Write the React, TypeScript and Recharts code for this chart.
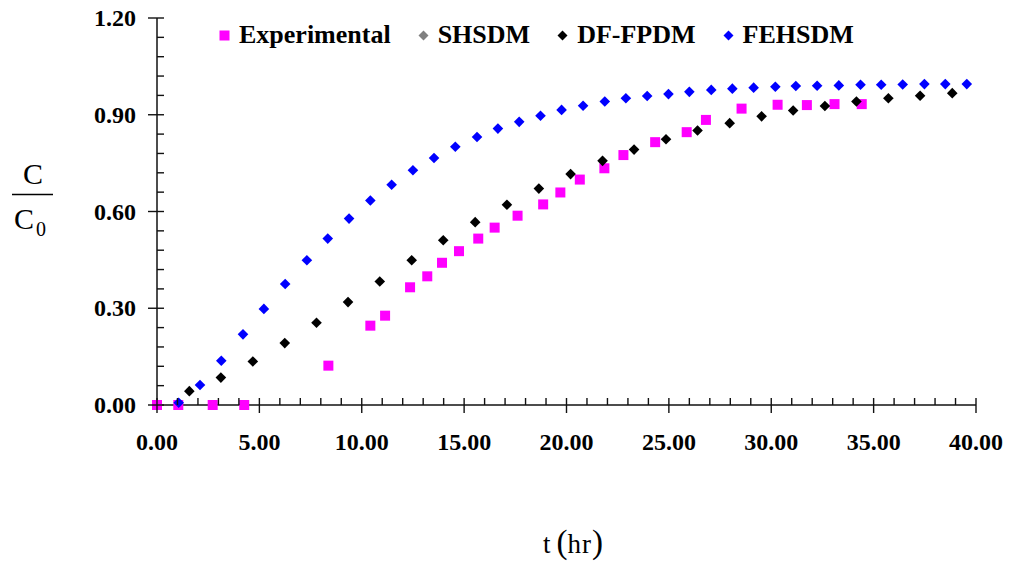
import { ScatterChart, Scatter, XAxis, YAxis, Legend } from 'recharts'

// time (hr) and C/C0
const expT = [0, 1.04, 2.72, 4.26, 8.37, 10.42, 11.14, 12.36, 13.2, 13.92, 14.75, 15.69, 16.49, 17.61, 18.86, 19.7, 20.65, 21.85, 22.78, 24.33, 25.87, 26.81, 28.55, 30.31, 31.74, 33.09, 34.42]
const expC = [0, 0, 0, 0, 0.122, 0.246, 0.277, 0.365, 0.399, 0.441, 0.477, 0.516, 0.55, 0.587, 0.622, 0.659, 0.699, 0.734, 0.775, 0.815, 0.846, 0.884, 0.919, 0.931, 0.93, 0.933, 0.933]

const shT: number[] = []
const shC: number[] = []

const dfT = [1.58, 3.12, 4.68, 6.24, 7.79, 9.33, 10.88, 12.44, 13.98, 15.54, 17.09, 18.65, 20.2, 21.76, 23.3, 24.86, 26.4, 27.97, 29.53, 31.07, 32.62, 34.16, 35.72, 37.27, 38.84]
const dfC = [0.043, 0.085, 0.135, 0.192, 0.255, 0.319, 0.383, 0.449, 0.511, 0.567, 0.621, 0.671, 0.716, 0.757, 0.792, 0.824, 0.851, 0.874, 0.895, 0.913, 0.927, 0.941, 0.951, 0.959, 0.967]

const feT = [1.06, 2.1, 3.14, 4.2, 5.22, 6.26, 7.32, 8.34, 9.38, 10.42, 11.46, 12.5, 13.53, 14.57, 15.63, 16.65, 17.69, 18.73, 19.76, 20.81, 21.87, 22.9, 23.94, 24.98, 26.0, 27.07, 28.1, 29.14, 30.2, 31.2, 32.24, 33.3, 34.36, 35.37, 36.42, 37.48, 38.5, 39.55]
const feC = [0.007, 0.062, 0.137, 0.219, 0.298, 0.375, 0.449, 0.516, 0.578, 0.634, 0.683, 0.728, 0.766, 0.801, 0.831, 0.857, 0.878, 0.897, 0.915, 0.928, 0.941, 0.951, 0.958, 0.964, 0.971, 0.977, 0.981, 0.984, 0.987, 0.989, 0.99, 0.991, 0.993, 0.993, 0.994, 0.995, 0.995, 0.995]

// every integer hour gets a tick, labels on the multiples of 5
const xTicks = [0, 1, 2, 3, 4, 5, 6, 7, 8, 9, 10, 11, 12, 13, 14, 15, 16, 17, 18, 19, 20, 21, 22, 23, 24, 25, 26, 27, 28, 29, 30, 31, 32, 33, 34, 35, 36, 37, 38, 39, 40]
const yTicks = [0, 0.06, 0.12, 0.18, 0.24, 0.3, 0.36, 0.42, 0.48, 0.54, 0.6, 0.66, 0.72, 0.78, 0.84, 0.9, 0.96, 1.02, 1.08, 1.14, 1.2]

const seriesOrder = ['Experimental', 'SHSDM', 'DF-FPDM', 'FEHSDM']

const toPoints = (t: number[], c: number[]) => t.map((v, i) => ({ t: v, c: c[i] }))

const FONT = '"Liberation Serif", "Times New Roman", serif'
const AXIS = '#111'

const squareShape = (color: string) => (props: any) => (
    <rect x={props.cx - 5} y={props.cy - 5} width={10} height={10} fill={color} />
)

const diamondShape = (color: string) => (props: any) => {
    const { cx, cy } = props
    const r = 5.3
    return <polygon points={`${cx},${cy - r} ${cx + r},${cy} ${cx},${cy + r} ${cx - r},${cy}`} fill={color} />
}

const XTick = (props: any) => {
    const { x, y, payload } = props
    const v = payload.value
    const major = v % 5 === 0
    return (
        <g>
            <line x1={x} x2={x} y1={y - 7} y2={major ? y + 8 : y} stroke={AXIS} strokeWidth={1.4} />
            {major && (
                <text x={x} y={y + 45} textAnchor="middle" fontFamily={FONT} fontWeight="bold" fontSize={24} fill="#000">
                    {v.toFixed(2)}
                </text>
            )}
        </g>
    )
}

const YTick = (props: any) => {
    const { x, y, payload, index } = props
    const major = index % 5 === 0
    return (
        <g>
            <line x1={major ? x - 9 : x} x2={x + 7} y1={y} y2={y} stroke={AXIS} strokeWidth={1.4} />
            {major && (
                <text x={x - 21} y={y + 8} textAnchor="end" fontFamily={FONT} fontWeight="bold" fontSize={24} fill="#000">
                    {payload.value.toFixed(2)}
                </text>
            )}
        </g>
    )
}

const YLabel = () => (
    <g fontFamily={FONT} fill="#000">
        <text x={33} y={183.5} textAnchor="middle" fontSize={30}>C</text>
        <line x1={12} x2={53} y1={194.5} y2={194.5} stroke="#000" strokeWidth={1.4} />
        <text x={14} y={229} fontSize={30}>C</text>
        <text x={36} y={236} fontSize={20}>0</text>
    </g>
)

const XLabel = () => (
    <text x={543} y={553} fontFamily={FONT} fontSize={27} fill="#000">
        <tspan>t</tspan>
        <tspan dx={6} fontSize={33}>(</tspan>
        <tspan letterSpacing={1}>hr</tspan>
        <tspan fontSize={33}>)</tspan>
    </text>
)

const LegendContent = (props: any) => {
    const items = [...(props.payload || [])].sort(
        (a: any, b: any) => seriesOrder.indexOf(a.value) - seriesOrder.indexOf(b.value)
    )
    return (
        <div style={{ display: 'flex', alignItems: 'center', fontFamily: FONT, fontWeight: 'bold', fontSize: 26, lineHeight: 1 }}>
            {items.map((entry: any) => (
                <div key={entry.value} style={{ display: 'flex', alignItems: 'center', marginRight: 27 }}>
                    <svg width={11} height={11} style={{ marginRight: 9 }}>
                        {entry.type === 'square'
                            ? <rect x={0.5} y={0.5} width={10} height={10} fill={entry.color} />
                            : <polygon points="5.5,0.5 10.5,5.5 5.5,10.5 0.5,5.5" fill={entry.color} />}
                    </svg>
                    <span style={{ color: '#000' }}>{entry.value}</span>
                </div>
            ))}
        </div>
    )
}

export default function App() {
    return (
        <div style={{ position: 'absolute', left: 0, top: 0, background: '#fff' }}>
            <ScatterChart width={1011} height={566} margin={{ top: 18, right: 35, bottom: 101, left: 97 }}>
                <XAxis
                    type="number"
                    dataKey="t"
                    domain={[0, 40]}
                    ticks={xTicks}
                    interval={0}
                    height={60}
                    tickSize={0}
                    tickMargin={0}
                    tickLine={false}
                    tick={<XTick />}
                    axisLine={{ stroke: AXIS, strokeWidth: 1.5 }}
                    label={<XLabel />}
                />
                <YAxis
                    type="number"
                    dataKey="c"
                    domain={[0, 1.2]}
                    ticks={yTicks}
                    interval={0}
                    width={60}
                    tickSize={0}
                    tickMargin={0}
                    tickLine={false}
                    tick={<YTick />}
                    axisLine={{ stroke: AXIS, strokeWidth: 1.5 }}
                    label={<YLabel />}
                />
                <Legend
                    verticalAlign="middle"
                    align="center"
                    content={<LegendContent />}
                    wrapperStyle={{ position: 'absolute', top: 22, left: 219, width: 'auto' }}
                />
                <Scatter name="Experimental" data={toPoints(expT, expC)} fill="#ff00ff" legendType="square" shape={squareShape('#ff00ff')} isAnimationActive={false} />
                <Scatter name="SHSDM" data={toPoints(shT, shC)} fill="#808080" legendType="diamond" shape={diamondShape('#808080')} isAnimationActive={false} />
                <Scatter name="DF-FPDM" data={toPoints(dfT, dfC)} fill="#000000" legendType="diamond" shape={diamondShape('#000000')} isAnimationActive={false} />
                <Scatter name="FEHSDM" data={toPoints(feT, feC)} fill="#0000ff" legendType="diamond" shape={diamondShape('#0000ff')} isAnimationActive={false} />
            </ScatterChart>
        </div>
    )
}
